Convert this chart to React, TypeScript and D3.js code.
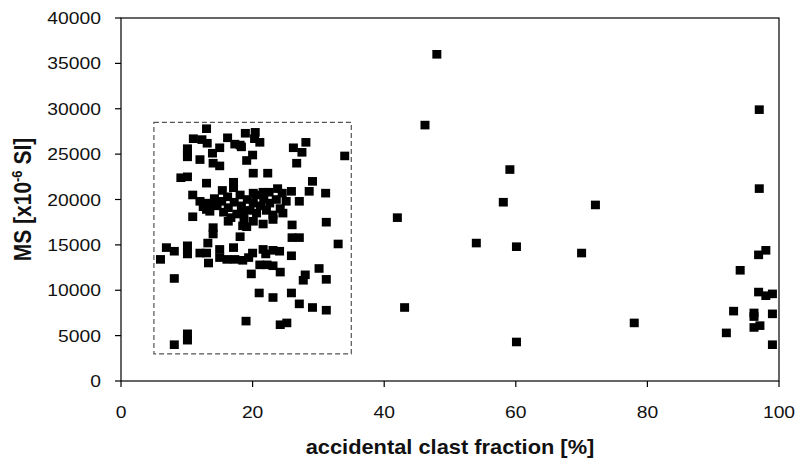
import React from "react";
import * as d3 from "d3";

// Points inside the dashed rectangle (accidental clast fraction %, MS x10^-6 SI)
const boxUpper: [number, number][] = [
  [13, 27800], [11, 26700], [12.3, 26600], [13.1, 26200], [16.2, 26800], [17.3, 26100],
  [18.3, 25800], [18.9, 27300], [20.4, 27400], [20.3, 26700], [21.1, 26300], [18.1, 26000],
  [10.1, 25600], [10.1, 25100], [10.1, 24700], [12, 24400], [13.9, 25100], [15, 25700],
  [14, 24000], [15, 23700], [19.1, 24300], [20, 24900], [26.2, 25700], [27.5, 25200],
  [28.1, 26300], [26.7, 24000], [9.1, 22400], [10.1, 22500], [13, 21800], [17.1, 21900],
  [20.1, 22900], [22.3, 22900], [29.1, 22000], [10.9, 20500], [15.4, 21000], [17.1, 21300],
  [20.1, 20700], [21.6, 20800], [23.8, 21200], [25.9, 20900], [28.6, 20900], [31.1, 20700],
  [34, 24800]
];

const boxCore: [number, number][] = [
  [12, 19800], [12.5, 19200], [13.3, 19600], [13.5, 18700], [14.2, 20100], [14.6, 19300],
  [15.3, 19800], [15.6, 18600], [16.2, 20300], [16.3, 19100], [16.7, 18000], [17.2, 19700],
  [17.6, 18400], [18.1, 20500], [18.3, 19300], [18.7, 17800], [19.2, 20000], [19.6, 18800],
  [20.1, 19600], [20.6, 20500], [20.6, 18500], [21.2, 19300], [21.7, 20100], [22.1, 18800],
  [22.6, 19600], [23.1, 18300], [23.6, 20000], [24.2, 19000], [24.6, 18500], [25.1, 19800],
  [20.1, 17600], [21.6, 17300], [23.1, 17800], [16.3, 17600], [19.1, 17000], [13, 18900],
  [18.6, 18500], [22.5, 20800], [24.5, 20700], [27.1, 19800]
];

const boxLower: [number, number][] = [
  [10.9, 18100], [14, 16900], [14, 16200], [18.1, 15900], [18.5, 17100], [26, 17200],
  [31.2, 17500], [26, 15800], [27.1, 15800], [33, 15100], [6.9, 14700], [8.1, 14300],
  [10.1, 14900], [10.1, 14000], [6, 13400], [12, 14100], [13.2, 15200], [13, 14100],
  [13.3, 13000], [15, 14500], [15, 13600], [16.1, 13400], [17.1, 14700], [17.3, 13400],
  [18.5, 13300], [19.4, 13600], [20, 14100], [21.6, 14500], [22, 14000], [23.1, 14400],
  [24.1, 14300], [25.9, 13800], [21.1, 12800], [22.2, 12800], [23.1, 12700], [24.2, 12000],
  [30.1, 12400], [19.8, 11800], [8.1, 11300], [28, 11700], [27.7, 11100], [31.2, 11200],
  [21, 9700], [23.1, 9200], [25.9, 9700], [27.1, 8500], [29.1, 8100], [31.2, 7800],
  [19, 6600], [24.2, 6200], [25.2, 6400], [10.1, 5200], [10.1, 4500], [8.1, 4000]
];

const midPoints: [number, number][] = [
  [48, 36000], [46.2, 28200], [59.1, 23300], [58.1, 19700], [72.1, 19400], [42, 18000],
  [54, 15200], [60.1, 14800], [70, 14100], [43.1, 8100], [78, 6400], [60.1, 4300]
];

const highPoints: [number, number][] = [
  [97, 29900], [97, 21200], [98, 14400], [96.9, 13900], [94.1, 12200], [96.9, 9800],
  [98, 9400], [99, 9600], [93.1, 7700], [96.2, 7500], [96.2, 7100], [99, 7400],
  [96.2, 5900], [97.1, 6100], [92, 5300], [99, 4000]
];

const dashedBox = { x0: 5, x1: 35, y0: 3000, y1: 28500 };

const xTicks = [0, 20, 40, 60, 80, 100];
const yTicks = [0, 5000, 10000, 15000, 20000, 25000, 30000, 35000, 40000];

const xLabel = "accidental clast fraction [%]";

export default function App() {
  const W = 796, H = 464;
  const left = 121, right = 779, top = 18, bottom = 381;
  const x = d3.scaleLinear().domain([0, 100]).range([left, right]);
  const y = d3.scaleLinear().domain([0, 40000]).range([bottom, top]);
  const allPoints = [...boxUpper, ...boxCore, ...boxLower, ...midPoints, ...highPoints];
  const font = "'Liberation Sans', Arial, sans-serif";
  const sx = 1.17;
  const mw = 9, mh = 8.6;

  return (
    <div>
      <style>{`body{margin:0}`}</style>
      <svg width={W} height={H} viewBox={`0 0 ${W} ${H}`} style={{ display: "block", background: "#fff" }}>
        <rect x={0} y={0} width={W} height={H} fill="#fff" />
        {/* frame */}
        <rect x={left} y={top} width={right - left} height={bottom - top} fill="none" stroke="#000" strokeWidth={1.2} />
        {/* dashed rectangle */}
        <rect
          x={x(dashedBox.x0)}
          y={y(dashedBox.y1)}
          width={x(dashedBox.x1) - x(dashedBox.x0)}
          height={y(dashedBox.y0) - y(dashedBox.y1)}
          fill="none"
          stroke="#555"
          strokeWidth={1.2}
          strokeDasharray="5,3"
        />
        {/* y ticks */}
        {yTicks.map((t) => (
          <g key={"y" + t}>
            <line x1={left - 6} x2={left} y1={y(t)} y2={y(t)} stroke="#000" strokeWidth={1.2} />
            <text
              transform={`translate(${left - 20},${y(t) + 6}) scale(${sx},1)`}
              textAnchor="end"
              fontFamily={font}
              fontSize={16.5}
              fill="#111"
            >
              {t}
            </text>
          </g>
        ))}
        {/* x ticks */}
        {xTicks.map((t) => (
          <g key={"x" + t}>
            <line x1={x(t)} x2={x(t)} y1={bottom} y2={bottom + 6} stroke="#000" strokeWidth={1.2} />
            <text
              transform={`translate(${x(t)},${418}) scale(${sx},1)`}
              textAnchor="middle"
              fontFamily={font}
              fontSize={16.5}
              fill="#111"
            >
              {t}
            </text>
          </g>
        ))}
        {/* points */}
        {allPoints.map((p, i) => (
          <rect key={i} x={x(p[0]) - mw / 2} y={y(p[1]) - mh / 2} width={mw} height={mh} fill="#000" />
        ))}
        {/* x label */}
        <text
          transform={`translate(${(left + right) / 2},${454}) scale(1.12,1)`}
          textAnchor="middle"
          fontFamily={font}
          fontWeight="bold"
          fontSize={19.5}
          fill="#111"
        >
          {xLabel}
        </text>
        {/* y label */}
        <text
          transform={`translate(31,${(top + bottom) / 2}) scale(1.12,1) rotate(-90)`}
          textAnchor="middle"
          fontFamily={font}
          fontWeight="bold"
          fontSize={21}
          fill="#111"
        >
          MS [x10
          <tspan fontSize={13} dy={-8}>-6</tspan>
          <tspan dy={8}> SI]</tspan>
        </text>
      </svg>
    </div>
  );
}
